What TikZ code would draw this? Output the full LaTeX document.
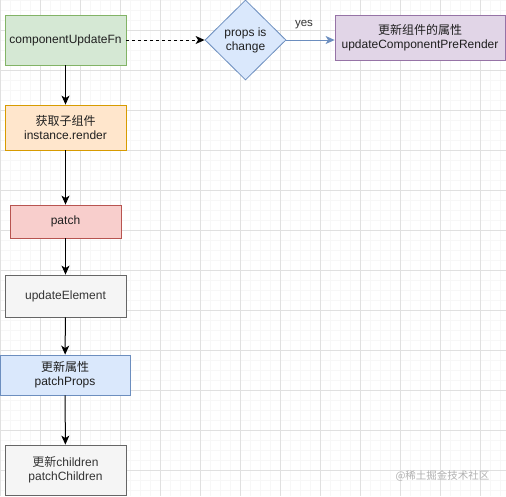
\documentclass[tikz,border=0pt]{standalone}
\usepackage{fontspec}
\setmainfont{Liberation Sans}
\newfontfamily\cjk{Noto Sans CJK SC}
\usetikzlibrary{shapes.geometric,arrows.meta}
\definecolor{gfill}{HTML}{D5E8D4}\definecolor{gline}{HTML}{82B366}
\definecolor{ofill}{HTML}{FFE6CC}\definecolor{oline}{HTML}{D79B00}
\definecolor{rfill}{HTML}{F8CECC}\definecolor{rline}{HTML}{B85450}
\definecolor{bfill}{HTML}{DAE8FC}\definecolor{bline}{HTML}{6C8EBF}
\definecolor{pfill}{HTML}{E1D5E7}\definecolor{pline}{HTML}{9673A6}
\definecolor{wfill}{HTML}{F5F5F5}\definecolor{wline}{HTML}{666666}
\definecolor{txt}{HTML}{333333}
\begin{document}
\begin{tikzpicture}[x=1pt,y=-1pt,
  box/.style={draw, line width=0.8pt, inner sep=0pt, align=center, font=\fontsize{12}{14}\selectfont, text=black!88},
  arr/.style={-{Stealth[length=9pt,width=8pt,inset=2.5pt]}, line width=1pt},
]
\useasboundingbox (0,0) rectangle (506,496);
\fill[white] (0,0) rectangle (506,496);
% grid
\foreach \x in {0,10,...,500} \draw[color=black!3, line width=0.4pt] (\x,0) -- (\x,496);
\foreach \y in {0,10,...,490} \draw[color=black!3, line width=0.4pt] (0,\y) -- (506,\y);
\foreach \x in {0,40,...,480} \draw[color=black!12, line width=0.6pt] (\x,0) -- (\x,496);
\foreach \y in {30,70,...,470} \draw[color=black!12, line width=0.6pt] (0,\y) -- (506,\y);

\node[box, fill=gfill, draw=gline, minimum width=121pt, minimum height=50pt] (cu) at (65.5,40) {componentUpdateFn};
\node[box, fill=ofill, draw=oline, minimum width=121pt, minimum height=45pt] (ir) at (65.5,127.5) {{\cjk 获取子组件}\\instance.render};
\node[box, fill=rfill, draw=rline, minimum width=111pt, minimum height=33pt] (pa) at (65.5,221.5) {patch};
\node[box, fill=wfill, draw=wline, text=txt, minimum width=121pt, minimum height=42pt] (ue) at (65.5,296) {updateElement};
\node[box, fill=bfill, draw=bline, minimum width=130pt, minimum height=40pt] (pp) at (65,375) {{\cjk 更新属性}\\patchProps};
\node[box, fill=wfill, draw=wline, text=txt, minimum width=121pt, minimum height=50pt] (pc) at (65.5,470) {{\cjk 更新}children\\patchChildren};
\node[box, diamond, fill=bfill, draw=bline, minimum width=81pt, minimum height=80pt] (dm) at (245.5,40) {props is\\change};
\node[box, fill=pfill, draw=pline, minimum width=170pt, minimum height=45pt] (up) at (420,37.5) {{\cjk 更新组件的属性}\\updateComponentPreRender};

\draw[arr] (cu) -- (ir);
\draw[arr] (ir) -- (pa);
\draw[arr] (pa) -- (ue);
\draw[arr] (ue) -- (pp);
\draw[arr] (pp) -- (pc);
\draw[arr, dashed, dash pattern=on 3pt off 3pt] (cu.east) -- (dm.west);
\draw[arr, draw=bline, fill=bline, line width=0.8pt] (dm.east) -- (up.west|-dm.east);
\node[font=\fontsize{11.5}{13}\selectfont, text=txt] (yes) at (304,25) {yes};
\node[font=\cjk\fontsize{10.5}{12}\selectfont, text=black!30, anchor=east] (wm) at (493,476) {@稀土掘金技术社区};
\end{tikzpicture}
\end{document}
